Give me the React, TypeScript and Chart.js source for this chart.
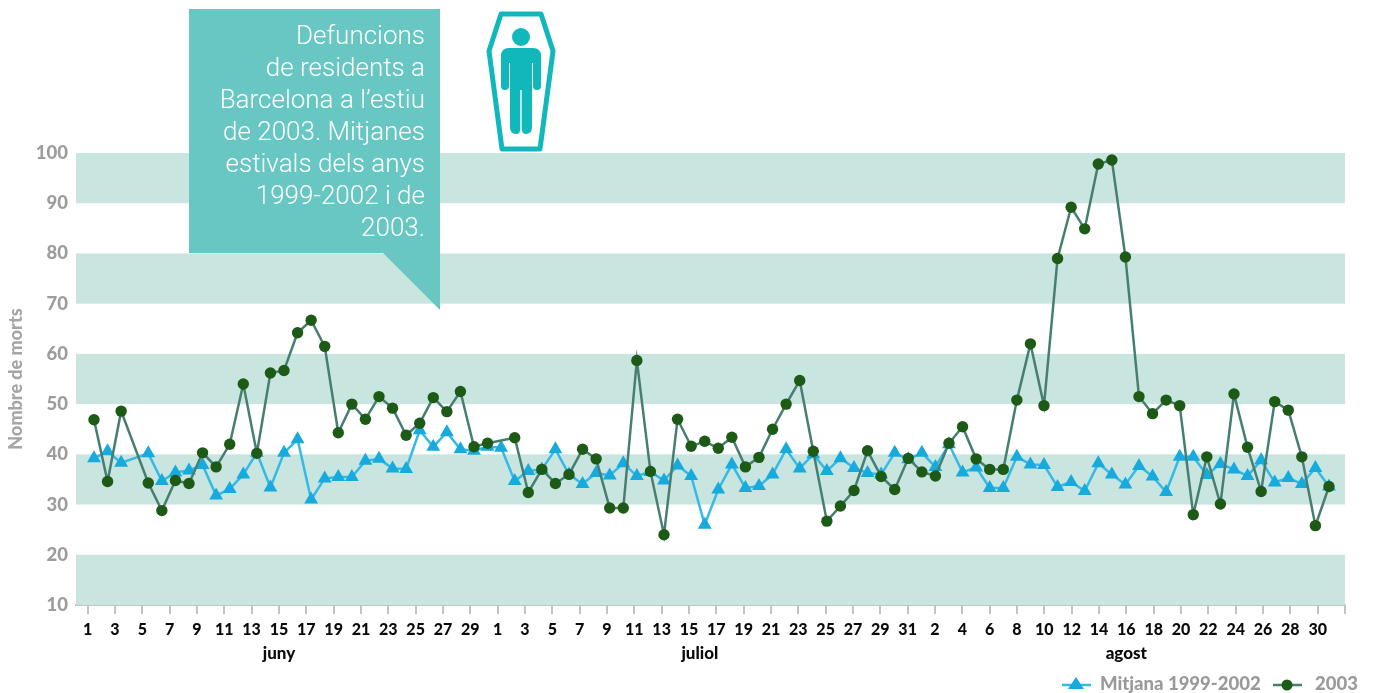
import React, { useEffect, useRef } from "react";
import { Chart, registerables } from "chart.js";

Chart.register(...registerables);

const FONT = "Lato, 'Noto Sans', sans-serif";

const mitjana = [39.2,40.6,38.3,null,40.2,34.7,36.4,36.8,37.9,31.8,33.1,36,40.3,33.4,40.3,43,31,35.2,35.5,35.5,38.7,39.1,37.2,37.1,44.8,41.5,44.4,41,40.7,41.5,41.3,34.7,36.7,37,41,36,34.1,36.3,35.8,38.2,35.7,36.5,34.8,37.8,35.7,26,33,38,33.3,33.7,36,41,37.2,40,36.7,39.2,37.3,36.3,36,40.3,39,40.3,37.5,42,36.4,37.4,33.3,33.3,39.5,38,37.9,33.5,34.5,32.7,38.2,36,34,37.7,35.6,32.5,39.5,39.5,35.9,38.1,37,35.7,38.8,34.4,35.3,34.1,37.3,33.6];
const any2003 = [46.9,34.6,48.6,null,34.3,28.8,34.8,34.2,40.3,37.5,42,54,40.2,56.2,56.7,64.2,66.7,61.5,44.3,50,47,51.5,49.2,43.8,46.2,51.3,48.5,52.5,41.5,42.2,null,43.3,32.4,37,34.2,36,41,39.1,29.3,29.3,58.7,36.6,24,47,41.6,42.6,41.2,43.4,37.5,39.4,45,50,54.7,40.6,26.7,29.7,32.8,40.7,35.6,33,39.2,36.5,35.7,42.2,45.5,39.1,37,37,50.8,62,49.7,79,89.2,84.9,97.8,98.6,79.3,51.5,48.1,50.8,49.7,28,39.5,30.1,52,41.4,32.6,50.5,48.8,39.5,25.8,33.6];
const dayLabels = ["1","3","5","7","9","11","13","15","17","19","21","23","25","27","29","1","3","5","7","9","11","13","15","17","19","21","23","25","27","29","31","2","4","6","8","10","12","14","16","18","20","22","24","26","28","30",""];
const monthLabels = ["juny", "juliol", "agost"];
const monthDays = [14, 44.8, 76];
const bands = [[10,20],[30,40],[50,60],[70,80],[90,100]];
const yTicks = [10,20,30,40,50,60,70,80,90,100];
const calloutLines = ["Defuncions","de residents a","Barcelona a l\u2019estiu","de 2003. Mitjanes","estivals dels anys","1999-2002 i de","2003."];
const seriesNames = ["Mitjana 1999-2002", "2003"];

const BLUE = "#17aadd";
const BLUE_LINE = "#35b9e6";
const GREEN = "#1c5a16";
const GREEN_LINE = "#477e72";

const bandPlugin = {
  id: "bands",
  beforeDatasetsDraw(chart: any) {
    const { ctx, chartArea, scales } = chart;
    ctx.save();
    ctx.fillStyle = "#c9e5e0";
    for (const [a, b] of bands) {
      const top = scales.y.getPixelForValue(b);
      const bot = scales.y.getPixelForValue(a);
      ctx.fillRect(chartArea.left, top, chartArea.right - chartArea.left, bot - top);
    }
    ctx.restore();
  },
};

export default function App() {
  const ref = useRef<HTMLCanvasElement>(null);
  useEffect(() => {
    const chart = new Chart(ref.current as any, {
      type: "line",
      data: {
        datasets: [
          {
            label: seriesNames[1],
            data: any2003.map((y, x) => ({ x, y })),
            borderColor: GREEN_LINE,
            backgroundColor: GREEN,
            pointBackgroundColor: GREEN,
            pointBorderColor: GREEN,
            pointRadius: 5.7,
            pointBorderWidth: 0,
            borderWidth: 2.5,
            spanGaps: true,
            tension: 0,
            order: 1,
          },
          {
            label: seriesNames[0],
            data: mitjana.map((y, x) => ({ x, y })),
            borderColor: BLUE_LINE,
            backgroundColor: BLUE,
            pointBackgroundColor: BLUE,
            pointBorderColor: BLUE,
            pointStyle: "triangle",
            pointRadius: 8,
            pointBorderWidth: 0,
            borderWidth: 2.5,
            spanGaps: true,
            tension: 0,
            order: 2,
          },
        ] as any,
      },
      options: {
        animation: false,
        responsive: false,
        layout: { padding: { left: 0, right: 28, top: 153, bottom: 0 } },
        plugins: { legend: { display: false }, tooltip: { enabled: false } },
        scales: {
          x: { type: "linear", display: false, min: -1.326, max: 92.18 },
          days: {
            type: "linear",
            position: "bottom",
            axis: "x",
            weight: 1,
            min: -0.85,
            max: 92,
            afterBuildTicks: (s: any) => {
              s.ticks = dayLabels.map((_, i) => ({ value: i * 2 }));
            },
            afterFit: (s: any) => { s.height = 36; },
            grid: { drawOnChartArea: false, drawTicks: true, tickLength: 9, color: "#c2c4c4", lineWidth: 2 },
            border: { display: true, color: "#c2c4c4", width: 2 },
            ticks: {
              autoSkip: false, maxRotation: 0, padding: 6,
              color: "#0a0a0a",
              font: { family: FONT, size: 16, weight: "900" },
              callback: (_: any, i: number) => dayLabels[i],
            },
          },
          months: {
            type: "linear",
            position: "bottom",
            axis: "x",
            weight: 2,
            min: -0.85,
            max: 92,
            afterBuildTicks: (s: any) => {
              s.ticks = monthDays.map((value) => ({ value }));
            },
            afterFit: (s: any) => { s.height = 52; },
            grid: { display: false },
            border: { display: false },
            ticks: {
              autoSkip: false, maxRotation: 0, padding: -6,
              color: "#0a0a0a",
              font: { family: FONT, size: 17, weight: "900" },
              callback: (_: any, i: number) => monthLabels[i],
            },
          },
          y: {
            min: 10,
            max: 100,
            afterFit: (s: any) => { s.width = 76; },
            afterBuildTicks: (s: any) => {
              s.ticks = yTicks.map((value) => ({ value }));
            },
            grid: { display: false },
            border: { display: false },
            title: {
              display: true,
              text: "Nombre de morts",
              color: "#a5a5a5",
              font: { family: FONT, size: 18, weight: "900" },
              padding: { top: 5, bottom: 0 },
            },
            ticks: {
              color: "#9c9c9c",
              padding: 0,
              font: { family: FONT, size: 18.5, weight: "900" },
            },
          },
        },
      } as any,
      plugins: [bandPlugin],
    });
    return () => chart.destroy();
  }, []);

  return (
    <div style={{ position: "absolute", left: 0, top: 0, width: 1373, height: 693, overflow: "hidden", background: "#fff" }}>
      <canvas ref={ref} width={1373} height={693} style={{ position: "absolute", left: 0, top: 0, width: 1373, height: 693 }} />
      <svg width={1373} height={693} style={{ position: "absolute", left: 0, top: 0 }}>
        <polygon points="189,9 440,9 440,310 383,253 189,253" fill="#68c7c3" />
        <polygon points="501,14 541,14 553,51 540,149 502,149 489,51" fill="#fff" stroke="#10b8bb" strokeWidth={5} strokeLinejoin="round" />
        <circle cx={521} cy={37} r={9} fill="#10b8bb" />
        <path d="M509,48 H533 Q541,48 541,56 V86 Q541,90 537,90 Q533,90 533,86 V63 H532 V127 Q532,134 526,134 Q522,134 521.7,129 V90 H520.3 V129 Q520,134 516,134 Q510,134 510,127 V63 H509 V86 Q509,90 505,90 Q501,90 501,86 V56 Q501,48 509,48 Z" fill="#10b8bb" />
        <line x1={1062} x2={1091} y1={685} y2={685} stroke={BLUE_LINE} strokeWidth={2.5} />
        <polygon points="1076,677 1084,689 1068,689" fill={BLUE} />
        <line x1={1273} x2={1302} y1={685} y2={685} stroke={GREEN_LINE} strokeWidth={2.5} />
        <circle cx={1287} cy={685} r={5.5} fill={GREEN} />
      </svg>
      <div style={{ position: "absolute", left: 189, width: 236, top: 19, textAlign: "right", color: "#fff", fontFamily: "Roboto, sans-serif", fontWeight: 300, fontSize: 26, lineHeight: "32px", whiteSpace: "nowrap" }}>
        {calloutLines.map((l) => <div key={l}>{l}</div>)}
      </div>
      <div style={{ position: "absolute", left: 1100, top: 672, color: "#9a9a9a", fontFamily: FONT, fontWeight: 900, fontSize: 18.5, lineHeight: "22px", whiteSpace: "nowrap" }}>{seriesNames[0]}</div>
      <div style={{ position: "absolute", left: 1315, top: 672, color: "#9a9a9a", fontFamily: FONT, fontWeight: 900, fontSize: 18.5, lineHeight: "22px", whiteSpace: "nowrap" }}>{seriesNames[1]}</div>
    </div>
  );
}
